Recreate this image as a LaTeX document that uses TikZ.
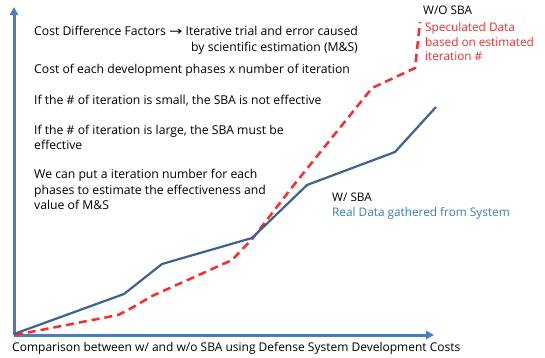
\documentclass[tikz,border=0pt]{standalone}
\usepackage{fontspec}
\setmainfont{Open Sans}
\newfontfamily\arrowfont{DejaVu Sans}
\usetikzlibrary{arrows.meta}
\definecolor{axisblue}{HTML}{4A7EBB}
\definecolor{lineblue}{HTML}{3D6193}
\definecolor{dashred}{HTML}{FF2A2A}
\definecolor{textblue}{HTML}{3A7CC3}
\tikzset{
  txt/.style={inner sep=0pt, anchor=base west, align=left, font=\fontsize{12.2}{15.3}\selectfont, text=black},
  lbl/.style={inner sep=0pt, anchor=base west, align=left, font=\fontsize{11.8}{14.5}\selectfont, text=black},
  axisline/.style={draw=axisblue, line width=3pt, -{Triangle[length=8pt,width=8pt]}},
  withline/.style={draw=lineblue, line width=2.2pt, line join=round},
  woline/.style={draw=dashred, line width=2.5pt, dash pattern=on 8pt off 5pt, line join=round},
}
\begin{document}
\begin{tikzpicture}[x=1pt,y=-1pt]
\useasboundingbox (0,0) rectangle (545,357);
\fill[white] (0,0) rectangle (545,357);
% axes
\coordinate (O) at (14,335);
\coordinate (ytop) at (14,7);
\coordinate (xend) at (434,335);
\draw[axisline] (O) -- (ytop);
\draw[axisline] (O) -- (xend);
% W/O SBA dashed
\coordinate (r0) at (15,335);
\coordinate (r1) at (118,315);
\coordinate (r2) at (128,310);
\coordinate (r3) at (152,296);
\coordinate (r4) at (232,260);
\coordinate (r5) at (253,238);
\coordinate (r6) at (293,186);
\coordinate (r7) at (330,140);
\coordinate (r8) at (372,88);
\coordinate (r9) at (415,68);
\coordinate (r10) at (420,22);
\draw[woline] (r0) -- (r1) -- (r2) -- (r3) -- (r4) -- (r5) -- (r6) -- (r7) -- (r8) -- (r9) -- (r10);
% W/ SBA solid
\coordinate (b0) at (14,334);
\coordinate (b1) at (124,294);
\coordinate (b2) at (162,264);
\coordinate (b3) at (252,238);
\coordinate (b4) at (307,185);
\coordinate (b5) at (395,152);
\coordinate (b6) at (436,107);
\draw[withline] (b0) -- (b1) -- (b2) -- (b3) -- (b4) -- (b5) -- (b6);
% texts (base anchor = baseline of last line)
\node[txt, align=right, font=\fontsize{12.2}{16}\selectfont] (t1) at (34,51.5) {Cost Difference Factors {\arrowfont\fontsize{11}{11}\selectfont\scalebox{1.45}[1.1]{→}} Iterative trial and error caused\\by scientific estimation (M\&S)};
\node[txt] (t2) at (34,73.5) {Cost of each development phases x number of iteration};
\node[txt] (t3) at (34,104.5) {If the \# of iteration is small, the SBA is not effective};
\node[txt] (t4) at (34,149.5) {If the \# of iteration is large, the SBA must be\\effective};
\node[txt] (t5) at (34,209.5) {We can put a iteration number for each\\phases to estimate the effectiveness and\\value of M\&S};
\node[lbl] (wo) at (423,14) {W/O SBA};
\node[lbl, text=dashred] (spec) at (425,60.5) {Speculated Data\\based on estimated\\iteration \#};
\node[lbl] (w) at (332,201.5) {W/ SBA};
\node[lbl, text=textblue] (real) at (332,216.5) {Real Data gathered from System};
\node[txt, font=\fontsize{12}{14}\selectfont] (cap) at (12,351.5) {Comparison between w/ and w/o SBA using Defense System Development Costs};
\end{tikzpicture}
\end{document}
